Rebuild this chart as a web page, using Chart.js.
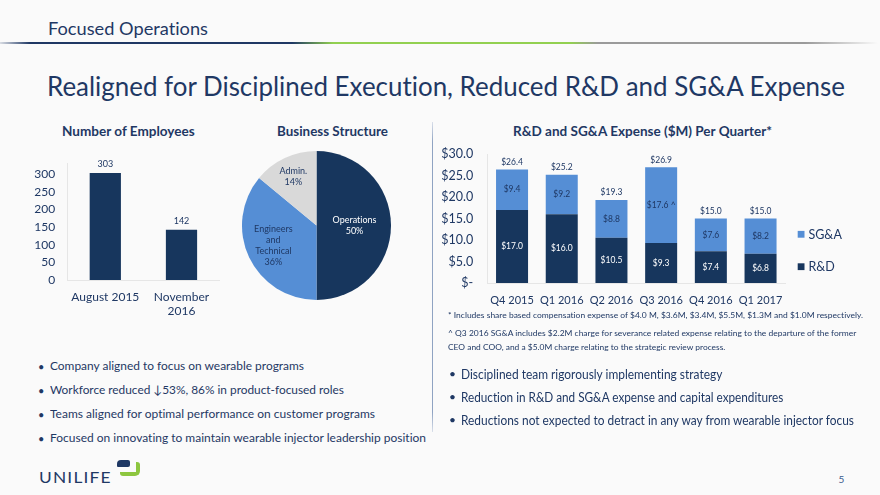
<!DOCTYPE html>
<html><head><meta charset="utf-8">
<script src="https://cdn.jsdelivr.net/npm/chart.js@4.4.1/dist/chart.umd.min.js"></script>
<style>
html,body{margin:0;padding:0;background:#fafafa;}
#slide{position:relative;width:880px;height:495px;overflow:hidden;background:#fafafa;font-family:Lato,'Open Sans',sans-serif;color:#1f3864;font-variant-ligatures:none;}
.t{position:absolute;white-space:nowrap;line-height:1.2;transform-origin:0 0;font-variant-ligatures:none;}
canvas{position:absolute;}
#hline{position:absolute;left:0;top:42px;width:880px;height:2px;background:linear-gradient(to right,rgba(31,56,100,0.15) 0px,#1f3864 30px,#1f3864 292px,#92d050 333px,#92d050 570px,#9a9a9a 598px,#9a9a9a 805px,rgba(154,154,154,0) 878px);}
#vline{position:absolute;left:432px;top:122px;width:1px;height:310px;background:linear-gradient(to bottom,rgba(140,160,195,0.3),#8fa3c2 20px,#8fa3c2 290px,rgba(140,160,195,0.3));}
#logoA{position:absolute;left:117px;top:460px;width:13px;height:7px;background:#1f3864;border-radius:4px 2px 2px 1px;}
#logoB{position:absolute;left:120px;top:462px;width:16px;height:10px;border-right:4px solid #8dc63f;border-bottom:4px solid #8dc63f;border-radius:0 3px 5px 3px;}
</style></head><body><div id="slide">
<div id="hline"></div>
<div id="vline"></div>
<canvas id="emp" width="225" height="180" style="left:0px;top:150px"></canvas>
<canvas id="pie" width="149" height="149" style="left:242px;top:151px"></canvas>
<canvas id="exp" width="450" height="180" style="left:430px;top:140px"></canvas>
<div id="logoA"></div><div id="logoB"></div>
</div>
<script>
// ---- data ----
const empCategories = [['August 2015'], ['November', '2016']];
const empValues = [303, 142];
const empTicks = [0, 50, 100, 150, 200, 250, 300];

const pieLabels = ['Operations', 'Engineers and Technical', 'Admin.'];
const pieLabelLines = [['Operations'], ['Engineers', 'and', 'Technical'], ['Admin.']];
const pieValues = [50, 36, 14];

const quarters = ['Q4 2015', 'Q1 2016', 'Q2 2016', 'Q3 2016', 'Q4 2016', 'Q1 2017'];
const rdValues = [17.0, 16.0, 10.5, 9.3, 7.4, 6.8];
const sgaValues = [9.4, 9.2, 8.8, 17.6, 7.6, 8.2];
const sgaNotes = ['', '', '', ' ^', '', ''];
const expenseTicks = [0, 5, 10, 15, 20, 25, 30];

// ---- styles ----
const TXT = '#1f3864';
const NAVY = '#17365d';
const BLUE = '#558ed5';
const GREY = '#d9d9d9';
Chart.defaults.font.family = 'Lato, "Open Sans", sans-serif';
Chart.defaults.color = TXT;

// ---- texts ----
const TEXTS = [
  {s:'Focused Operations', x:47.7, b:35.5, f:18, w:160},
  {s:'Realigned for Disciplined Execution, Reduced R&D and SG&A Expense', x:47, b:96.7, f:27, w:798},
  {s:'Number of Employees', x:62.3, b:136.5, f:12.5, w:132.7, bold:1},
  {s:'Business Structure', x:277.3, b:136, f:12.5, w:111, bold:1},
  {s:'R&D and SG&A Expense ($M) Per Quarter*', x:512.7, b:136, f:12.5, w:259, bold:1},
  {s:'* Includes share based compensation expense of $4.0 M, $3.6M, $3.4M, $5.5M, $1.3M and $1.0M respectively.', x:448.3, b:319, f:8, w:415},
  {s:'^ Q3 2016 SG&A includes $2.2M charge for severance related expense relating to the departure of the former', x:448.3, b:337.3, f:8, w:408.3},
  {s:'CEO and COO, and a $5.0M charge relating to the strategic review process.', x:448.3, b:351, f:8, w:277.3},
  {s:'Company aligned to focus on wearable programs', x:50, b:371, f:12, w:254},
  {s:'Workforce reduced \u219353%, 86% in product-focused roles', x:50, b:395.3, f:12, w:294},
  {s:'Teams aligned for optimal performance on customer programs', x:50, b:419.3, f:12, w:325},
  {s:'Focused on innovating to maintain wearable injector leadership position', x:50, b:442.7, f:12, w:376},
  {s:'Disciplined team rigorously implementing strategy', x:461, b:379, f:13.5, w:261.3},
  {s:'Reduction in R&D and SG&A expense and capital expenditures', x:461, b:402.3, f:13.5, w:322.3},
  {s:'Reductions not expected to detract in any way from wearable injector focus', x:461, b:425, f:13.5, w:393},
  {s:'\u2022', x:38, b:371, f:11}, {s:'\u2022', x:38, b:395.3, f:11}, {s:'\u2022', x:38, b:419.3, f:11}, {s:'\u2022', x:38, b:442.7, f:11},
  {s:'\u2022', x:449, b:379, f:12}, {s:'\u2022', x:449, b:402.3, f:12}, {s:'\u2022', x:449, b:425, f:12},
  {s:'5', x:838.5, b:482.5, f:10, c:'#3b5a8c'},
  {s:'UNILIFE', x:39, b:483.5, f:14.5, w:72.7, ls:1}
];
const slide = document.getElementById('slide');
TEXTS.forEach(o => {
  const d = document.createElement('div');
  d.className = 't';
  d.textContent = o.s;
  d.style.left = o.x + 'px';
  d.style.top = (o.b - 0.987 * o.f) + 'px';
  d.style.fontSize = o.f + 'px';
  if (o.bold) d.style.fontWeight = '700';
  if (o.ls) d.style.letterSpacing = o.ls + 'px';
  if (o.c) d.style.color = o.c;
  if (o.w) d.dataset.w = o.w;
  slide.appendChild(d);
});
function fitAll() {
  document.querySelectorAll('.t[data-w]').forEach(el => {
    el.style.transform = 'none';
    const w = el.getBoundingClientRect().width;
    if (w > 0) el.style.transform = 'scaleX(' + (+el.dataset.w / w) + ')';
  });
}
fitAll();
if (document.fonts && document.fonts.ready) document.fonts.ready.then(fitAll);

const money = v => '$' + Number(v).toFixed(1);
function noPadY(s) { s.paddingTop = 0; s.paddingBottom = 0; }
function noPadX(s) { s.paddingLeft = 0; s.paddingRight = 0; }

// ---- employees chart ----
const empLabelPlugin = {
  id: 'empLabels',
  afterDatasetsDraw(chart) {
    const ctx = chart.ctx;
    const meta = chart.getDatasetMeta(0);
    ctx.save();
    ctx.font = '9px Lato, sans-serif';
    ctx.fillStyle = TXT;
    ctx.textAlign = 'center';
    ctx.textBaseline = 'middle';
    meta.data.forEach((bar, i) => {
      ctx.fillText(String(chart.data.datasets[0].data[i]), bar.x, bar.y - 9);
    });
    ctx.restore();
  }
};
new Chart(document.getElementById('emp'), {
  type: 'bar',
  data: {labels: empCategories, datasets: [{label: 'Employees', data: empValues, backgroundColor: NAVY, barPercentage: 0.41, categoryPercentage: 1}]},
  options: {
    responsive: false, animation: false, events: [],
    layout: {padding: {top: 13.4, right: 5.4, left: 0, bottom: 0}},
    plugins: {legend: {display: false}, tooltip: {enabled: false}},
    scales: {
      x: {grid: {display: false, drawTicks: false}, border: {color: '#e6e6e6'},
          ticks: {color: TXT, font: {size: 12}, padding: 9.5, maxRotation: 0, minRotation: 0, autoSkip: false},
          afterFit(s) { s.height = 50; noPadX(s); }},
      y: {min: 0, max: 330,
          afterBuildTicks(s) { s.ticks = empTicks.map(v => ({value: v})); },
          grid: {display: false, drawTicks: false}, border: {color: '#e6e6e6'},
          ticks: {color: TXT, font: {size: 12}, padding: 12},
          afterFit(s) { s.width = 67.2; noPadY(s); }}
    }
  },
  plugins: [empLabelPlugin]
});

// ---- pie chart ----
const pieFrac = [0.51, 0.64, 0.73];
const pieTextColors = ['#ffffff', TXT, TXT];
const pieLabelPlugin = {
  id: 'pieLabels',
  afterDatasetsDraw(chart) {
    const ctx = chart.ctx;
    const meta = chart.getDatasetMeta(0);
    ctx.save();
    ctx.font = '9px Lato, sans-serif';
    ctx.textAlign = 'center';
    ctx.textBaseline = 'middle';
    try { ctx.textRendering = 'optimizeSpeed'; } catch (e) {}
    meta.data.forEach((arc, i) => {
      const p = arc.getProps(['x', 'y', 'startAngle', 'endAngle', 'outerRadius']);
      const mid = (p.startAngle + p.endAngle) / 2;
      const cx = p.x + Math.cos(mid) * p.outerRadius * pieFrac[i];
      const cy = p.y + Math.sin(mid) * p.outerRadius * pieFrac[i];
      const lines = pieLabelLines[i].concat([chart.data.datasets[0].data[i] + '%']);
      const lh = 11;
      const y0 = cy - (lines.length - 1) * lh / 2;
      ctx.fillStyle = pieTextColors[i];
      lines.forEach((ln, k) => ctx.fillText(ln, cx, y0 + k * lh));
    });
    ctx.restore();
  }
};
new Chart(document.getElementById('pie'), {
  type: 'pie',
  data: {labels: pieLabels, datasets: [{data: pieValues, backgroundColor: [NAVY, BLUE, GREY], borderWidth: 0}]},
  options: {
    responsive: false, animation: false, events: [],
    layout: {padding: 0},
    plugins: {legend: {display: false}, tooltip: {enabled: false}}
  },
  plugins: [pieLabelPlugin]
});

// ---- expense chart ----
const expLabelPlugin = {
  id: 'expLabels',
  afterDatasetsDraw(chart) {
    const ctx = chart.ctx;
    const ds = chart.data.datasets;
    const m0 = chart.getDatasetMeta(0), m1 = chart.getDatasetMeta(1);
    ctx.save();
    ctx.font = '8.5px Lato, sans-serif';
    ctx.textAlign = 'center';
    ctx.textBaseline = 'middle';
    m0.data.forEach((bar, i) => {
      ctx.fillStyle = '#ffffff';
      ctx.fillText(money(ds[0].data[i]), bar.x, (bar.y + bar.base) / 2);
    });
    m1.data.forEach((bar, i) => {
      ctx.fillStyle = TXT;
      ctx.fillText(money(ds[1].data[i]) + sgaNotes[i], bar.x, (bar.y + bar.base) / 2);
      ctx.fillText(money(ds[0].data[i] + ds[1].data[i]), bar.x, bar.y - 7.5);
    });
    // legend (top entry = SG&A)
    const a = chart.chartArea;
    const items = [1, 0];
    const ys = [80.3, 112.7];
    ctx.font = '12.5px Lato, sans-serif';
    ctx.textAlign = 'left';
    items.forEach((di, k) => {
      const y = a.top + ys[k];
      ctx.fillStyle = ds[di].backgroundColor;
      ctx.fillRect(a.right + 12.3, y - 3.4, 6.8, 6.8);
      ctx.fillStyle = TXT;
      ctx.fillText(ds[di].label, a.right + 23, y + 0.5);
    });
    ctx.restore();
  }
};
new Chart(document.getElementById('exp'), {
  type: 'bar',
  data: {labels: quarters, datasets: [
    {label: 'R&D', data: rdValues, backgroundColor: NAVY, barPercentage: 0.644, categoryPercentage: 1, stack: 's'},
    {label: 'SG&A', data: sgaValues, backgroundColor: BLUE, barPercentage: 0.644, categoryPercentage: 1, stack: 's'}
  ]},
  options: {
    responsive: false, animation: false, events: [],
    layout: {padding: {top: 14, right: 94.6, left: 0, bottom: 0}},
    plugins: {legend: {display: false}, tooltip: {enabled: false}},
    scales: {
      x: {stacked: true, grid: {display: false, drawTicks: false}, border: {color: '#e6e6e6'},
          ticks: {color: TXT, font: {size: 11}, padding: 10.4, maxRotation: 0, minRotation: 0, autoSkip: false},
          afterFit(s) { s.height = 37; noPadX(s); }},
      y: {stacked: true, min: 0, max: 30,
          afterBuildTicks(s) { s.ticks = expenseTicks.map(v => ({value: v})); },
          grid: {display: false, drawTicks: false}, border: {color: '#e6e6e6'},
          ticks: {color: TXT, font: {size: 12.5}, padding: 14, callback: v => v === 0 ? '$-' : money(v)},
          afterFit(s) { s.width = 57.2; noPadY(s); }}
    }
  },
  plugins: [expLabelPlugin]
});
</script>
</body></html>
